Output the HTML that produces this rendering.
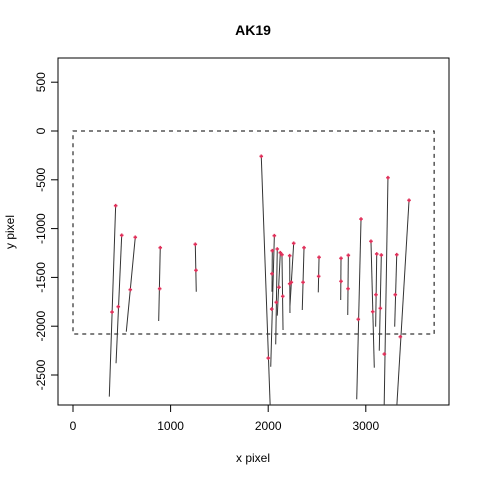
<!DOCTYPE html>
<html><head><meta charset="utf-8"><style>
body{margin:0;background:#fff}
svg text{font-family:"Liberation Sans",Arial,sans-serif;fill:#000}
</style></head><body>
<svg id="c" width="480" height="480">
<defs><clipPath id="clip"><rect x="58" y="58" width="391" height="347"/></clipPath></defs>
<text x="253" y="35" font-size="14" font-weight="bold" text-anchor="middle">AK19</text>
<rect x="58" y="58" width="391" height="347" fill="none" stroke="#000"/>
<g id="axes"></g>
<g id="marks" clip-path="url(#clip)"></g>
<text x="253" y="462" font-size="12" text-anchor="middle">x pixel</text>
<text x="14" y="232" font-size="12" text-anchor="middle" transform="rotate(-90 14 232)">y pixel</text>
</svg>
<script>
const xTicks=[0,1000,2000,3000];
const yTicks=[500,0,-500,-1000,-1500,-2000,-2500];
const x1s=[437,499,638,894,1253,1929,2063,2042,2093,2124,2141,2220,2261,2367,2521,2746,2821,2951,3053,3112,3159,3227,3317,3443];
const y1s=[-765,-1069,-1089,-1196,-1161,-259,-1073,-1226,-1209,-1247,-1267,-1278,-1151,-1196,-1294,-1304,-1274,-902,-1130,-1260,-1271,-478,-1267,-710];
const x2s=[372,441,546,878,1263,2025,2026,2039,2077,2093,2152,2223,2223,2349,2513,2743,2815,2907,3087,3101,3138,3186,3296,3310];
const y2s=[-2722,-2380,-2056,-1947,-1647,-2950,-2415,-1647,-2186,-1892,-2039,-1865,-1790,-1834,-1653,-1732,-1885,-2749,-2425,-2005,-2251,-2950,-2005,-2950];
const pxs=[400,464,587,888,1260,2001,2036,2039,2083,2111,2149,2220,2237,2357,2517,2746,2818,2923,3071,3104,3149,3190,3302,3354];
const pys=[-1855,-1800,-1626,-1616,-1427,-2326,-1824,-1462,-1755,-1601,-1694,-1565,-1550,-1550,-1489,-1540,-1616,-1929,-1851,-1677,-1817,-2285,-1677,-2108];
const boxX=[0,3700], boxY=[0,-2080];
const X=v=>73+v*0.0976, Y=v=>131-v*0.0976;
const NS='http://www.w3.org/2000/svg';
function mk(t,a,p){const e=document.createElementNS(NS,t);for(const k in a)e.setAttribute(k,a[k]);p.appendChild(e);return e;}
const ax=document.getElementById('axes'), mg=document.getElementById('marks');
const xl=mk('line',{x1:X(0),x2:X(3000),y1:405,y2:405,stroke:'#000'},ax);


xTicks.forEach(v=>{
 const l=mk('line',{x1:X(v),x2:X(v),y1:405,y2:412,stroke:'#000'},ax);
 
 
 const t=mk('text',{x:X(v),y:430,'font-size':12,'text-anchor':'middle'},ax);t.textContent=v;
 
 
});
const yl=mk('line',{x1:58,x2:58,y1:Y(500),y2:Y(-2500),stroke:'#000'},ax);


yTicks.forEach(v=>{
 const l=mk('line',{x1:51,x2:58,y1:Y(v),y2:Y(v),stroke:'#000'},ax);
 
 
 const t=mk('text',{x:45,y:Y(v),'font-size':12,'text-anchor':'middle',transform:`rotate(-90 45 ${Y(v)})`},ax);t.textContent=v;
 
 
});
const bx=mk('rect',{x:X(boxX[0]),y:Y(boxY[0]),width:X(boxX[1])-X(boxX[0]),height:Y(boxY[1])-Y(boxY[0]),fill:'none',stroke:'#000','stroke-dasharray':'4,4'},mg);


x1s.forEach((v,i)=>{
 const l=mk('line',{x1:X(v),y1:Y(y1s[i]),x2:X(x2s[i]),y2:Y(y2s[i]),stroke:'#333','stroke-width':1},mg);
 
 
});
function pt(x,y){
 const g=mk('path',{d:`M${X(x)-1.8},${Y(y)}h3.6M${X(x)},${Y(y)-1.8}v3.6`,stroke:'#e0305a','stroke-width':1.6},mg);
 
 
}
x1s.forEach((v,i)=>{pt(v,y1s[i]);pt(pxs[i],pys[i]);});
</script>
</body></html>
